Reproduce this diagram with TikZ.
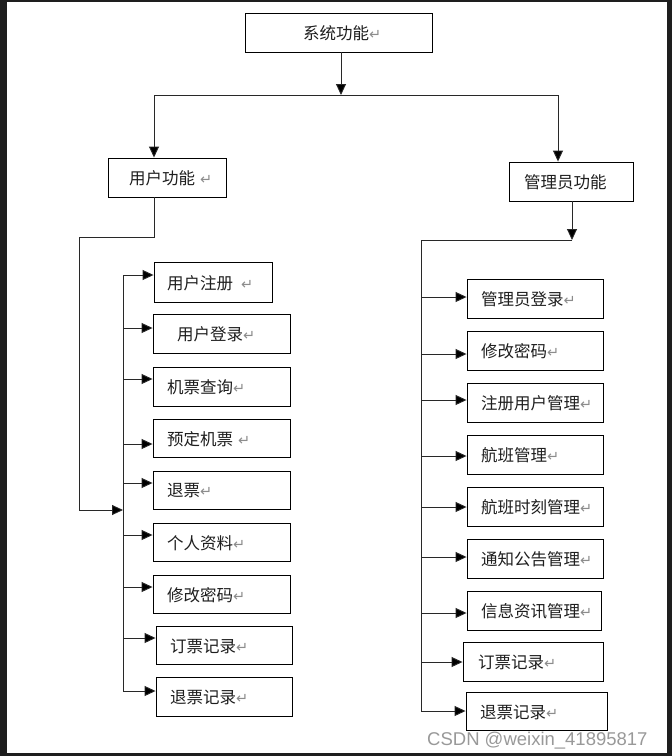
\documentclass[tikz,border=0pt]{standalone}
\usepackage{fontspec}
\setmainfont{Noto Sans CJK SC}
\newfontfamily\dvfont{DejaVu Sans}
\newfontfamily\wmfont{Liberation Sans}
\usetikzlibrary{arrows.meta}
\definecolor{frame}{RGB}{30,30,30}
\definecolor{txt}{RGB}{30,30,30}
\definecolor{ln}{RGB}{40,40,40}
\newcommand\retmark{{\dvfont\fontsize{14.5}{14.5}\selectfont\color{black!45}↵}}
\tikzset{
  box/.style={draw=black, line width=0.9pt, fill=white, inner sep=0pt},
  lab/.style={anchor=west, inner sep=0pt, font=\fontsize{16.5}{18}\selectfont, text=txt},
  conn/.style={draw=ln, line width=0.9pt},
  arr/.style={conn, -{Triangle[length=11pt,width=10pt,fill=black]}},
}
\begin{document}
\begin{tikzpicture}[x=1pt,y=-1pt]
\fill[frame] (0,0) rectangle (672,756);
\fill[white] (7,2) rectangle (667,753);
\useasboundingbox (0,0) rectangle (672,756);

% top level
\node[box, minimum width=187pt, minimum height=39pt] (sys) at (338.5,32.5) {};
\node[lab] (syst) at (303,33) {系统功能\retmark};
\node[box, minimum width=118pt, minimum height=39pt] (user) at (167,177.5) {};
\node[lab] (usert) at (129,178) {用户功能\hspace{5pt}\retmark};
\node[box, minimum width=124pt, minimum height=39pt] (admin) at (571,181.5) {};
\node[lab] (admint) at (524,182) {管理员功能};

\coordinate (sj) at (341,95);
\coordinate (tl) at (154,95);
\coordinate (tr) at (558,95);
\draw[arr] ([xshift=2.5pt]sys.south) -- (sj);
\draw[conn] (tl) -- (tr);
\draw[arr] (tl) -- (tl |- user.north);
\draw[arr] (tr) -- (tr |- admin.north);

% user side boxes
\node[box, minimum width=118pt, minimum height=40pt] (u1) at (213,282) {};
\node[lab] (u1t) at (167,283) {用户注册\hspace{8pt}\retmark};
\node[box, minimum width=137pt, minimum height=39pt] (u2) at (221.5,333.5) {};
\node[lab] (u2t) at (177,334) {用户登录\retmark};
\node[box, minimum width=137pt, minimum height=39pt] (u3) at (221.5,386.5) {};
\node[lab] (u3t) at (167,387) {机票查询\retmark};
\node[box, minimum width=137pt, minimum height=38pt] (u4) at (221.5,438) {};
\node[lab] (u4t) at (167,439) {预定机票\hspace{5pt}\retmark};
\node[box, minimum width=137pt, minimum height=38pt] (u5) at (221.5,490) {};
\node[lab] (u5t) at (167,491) {退票\retmark};
\node[box, minimum width=137pt, minimum height=38pt] (u6) at (221.5,542) {};
\node[lab] (u6t) at (167,543) {个人资料\retmark};
\node[box, minimum width=137pt, minimum height=38pt] (u7) at (221.5,594) {};
\node[lab] (u7t) at (167,595) {修改密码\retmark};
\node[box, minimum width=136pt, minimum height=38pt] (u8) at (224,645) {};
\node[lab] (u8t) at (170,646) {订票记录\retmark};
\node[box, minimum width=136pt, minimum height=39pt] (u9) at (224,696.5) {};
\node[lab] (u9t) at (170,697) {退票记录\retmark};

% user connectors
\coordinate (uc1) at (154,237);
\coordinate (uc2) at (79,237);
\coordinate (uc3) at (79,510);
\coordinate (ubus) at (123,510);
\coordinate (ubtop) at (123,275);
\coordinate (ubbot) at (123,691);
\draw[conn] (user.south -| uc1) -- (uc1) -- (uc2) -- (uc3);
\draw[arr] (uc3) -- (ubus);
\draw[conn] (ubtop) -- (ubbot);
\foreach \n/\d in {u1/7,u2/5.5,u3/7.5,u4/-6,u5/7,u6/7,u7/7,u8/7,u9/5.5}{
  \coordinate (\n e) at ([yshift=\d pt]\n.west);
  \draw[arr] (ubus |- \n e) -- (\n e);
}

% admin side boxes
\node[box, minimum width=136pt, minimum height=39pt] (a1) at (535,298.5) {};
\node[lab] (a1t) at (481,299) {管理员登录\retmark};
\node[box, minimum width=136pt, minimum height=39pt] (a2) at (535,350.5) {};
\node[lab] (a2t) at (481,351) {修改密码\retmark};
\node[box, minimum width=136pt, minimum height=39pt] (a3) at (535,402.5) {};
\node[lab] (a3t) at (481,403) {注册用户管理\retmark};
\node[box, minimum width=136pt, minimum height=39pt] (a4) at (535,454.5) {};
\node[lab] (a4t) at (481,455) {航班管理\retmark};
\node[box, minimum width=136pt, minimum height=39pt] (a5) at (535,506.5) {};
\node[lab] (a5t) at (481,507) {航班时刻管理\retmark};
\node[box, minimum width=136pt, minimum height=39pt] (a6) at (535,558.5) {};
\node[lab] (a6t) at (481,559) {通知公告管理\retmark};
\node[box, minimum width=134pt, minimum height=39pt] (a7) at (534,610.5) {};
\node[lab] (a7t) at (481,611) {信息资讯管理\retmark};
\node[box, minimum width=140pt, minimum height=39pt] (a8) at (533,661.5) {};
\node[lab] (a8t) at (478,662) {订票记录\retmark};
\node[box, minimum width=141pt, minimum height=38pt] (a9) at (536.5,711) {};
\node[lab] (a9t) at (480,712) {退票记录\retmark};

% admin connectors
\coordinate (aj) at (572,240);
\coordinate (abtop) at (421,240);
\coordinate (abbot) at (421,711);
\draw[arr] (admin.south -| aj) -- (aj);
\draw[conn] (aj) -- (abtop) -- (abbot);
\foreach \n/\d in {a1/1.5,a2/-3.5,a3/2.5,a4/-1.5,a5/-0.5,a6/1.5,a7/-2.5,a8/-0.5,a9/0}{
  \coordinate (\n e) at ([yshift=\d pt]\n.west);
  \draw[arr] (abtop |- \n e) -- (\n e);
}

% watermark
\node[anchor=base west, inner sep=0pt, font=\wmfont\fontsize{18.5}{20}\selectfont, text=black!40] (wm) at (427,745) {CSDN @weixin\_41895817};
\end{tikzpicture}
\end{document}
